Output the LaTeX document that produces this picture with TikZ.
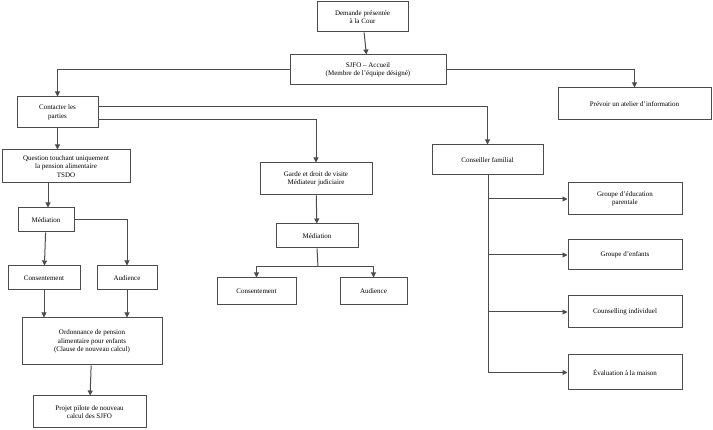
\documentclass[tikz,border=0pt]{standalone}
\usepackage{fontspec}
\setmainfont{Liberation Serif}
\usetikzlibrary{arrows.meta}
\begin{document}
\begin{tikzpicture}[x=1pt,y=-1pt,
 box/.style={draw=black!70,line width=1pt,fill=white,inner sep=0pt,align=center,font=\fontsize{7}{8.5}\selectfont},
 ar/.style={draw=black!70,line width=1pt,-{Triangle[width=5pt,length=5pt]}},
 ln/.style={draw=black!70,line width=1pt}]
\useasboundingbox (0,0) rectangle (713,430);
\newcommand{\bx}[6]{\node[box,minimum width={#4-#2},minimum height={#5-#3}] (#1) at ({(#2+#4)/2},{(#3+#5)/2}) {#6};}
\bx{dem}{317}{2}{408}{32}{Demande présentée\\à la Cour}
\bx{sjfo}{290}{55}{446}{85}{SJFO – Accueil\\(Membre de l’équipe désigné)}
\bx{prev}{558}{88}{711}{120}{Prévoir un atelier d’information}
\bx{cont}{17}{97}{98}{128}{Contacter les\\parties}
\bx{quest}{2}{150}{130}{183}{Question touchant uniquement\\la pension alimentaire\\TSDO}
\bx{garde}{260}{163}{372}{195}{Garde et droit de visite\\Médiateur judiciaire}
\bx{cons}{432}{145}{543}{175}{Conseiller familial}
\bx{medL}{18}{208}{74}{232}{Médiation}
\bx{conL}{8}{266}{80}{290}{Consentement}
\bx{audL}{97}{266}{157}{290}{Audience}
\bx{ord}{22}{318}{162}{365}{Ordonnance de pension\\alimentaire pour enfants\\(Clause de nouveau calcul)}
\bx{proj}{33}{396}{146}{428}{Projet pilote de nouveau\\calcul des SJFO}
\bx{medM}{276}{224}{358}{248}{Médiation}
\bx{conM}{217}{278}{296}{305}{Consentement}
\bx{audM}{340}{278}{407}{305}{Audience}
\bx{g1}{568}{183}{682}{215}{Groupe d’éducation\\parentale}
\bx{g2}{568}{240}{682}{270}{Groupe d’enfants}
\bx{g3}{568}{296}{682}{328}{Counselling individuel}
\bx{g4}{568}{355}{682}{390}{Évaluation à la maison}
\draw[ar] (dem) -- (sjfo);
\draw[ar] (sjfo.west) -| (cont.north);
\draw[ar] (sjfo.east) -| (prev.north);
\draw[ar] (cont.east |- 0,107) -| (cons.north);
\draw[ar] (cont.east |- 0,120) -| (garde.north);
\draw[ar] (cont) -- (cont |- quest.north);
\draw[ar] (quest.south -| 48,0) -- (medL.north -| 48,0);
\draw[ar] (medL.east) -| (audL.north);
\draw[ar] (medL) -- (conL);
\draw[ar] (conL) -- (conL |- ord.north);
\draw[ar] (audL) -- (audL |- ord.north);
\draw[ar] (ord) -- (proj);
\draw[ar] (garde) -- (medM);
\draw[ln] (medM.south) -- (318,267);
\draw[ar] (318,267) -| (conM.north);
\draw[ar] (318,267) -| (audM.north);
\coordinate (cb) at (cons.south -| 488,0);
\draw[ln] (cb) -- (488,372.5);
\foreach \g in {g1,g2,g3,g4} \draw[ar] (cb) |- (\g.west);
\end{tikzpicture}
\end{document}
